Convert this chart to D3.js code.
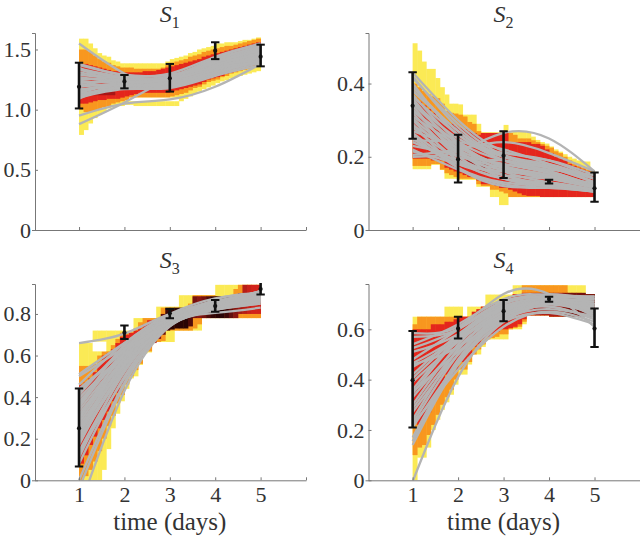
<!DOCTYPE html>
<html><head><meta charset="utf-8">
<script src="https://cdn.jsdelivr.net/npm/d3@7/dist/d3.min.js"></script>
<style>html,body{margin:0;padding:0;background:#fff}svg{display:block}</style>
</head><body><svg id="c" width="640" height="536"></svg>
<script>
const dayTicks=[1,2,3,4,5,6];
const dayLabels=["1","2","3","4","5",""];
const curveDays=[1,2,3,4,5];
const binEdges=[1,1.1,1.2,1.3,1.4,1.5,1.6,1.7,1.8,1.9,2,2.1,2.2,2.3,2.4,2.5,2.6,2.7,2.8,2.9,3,3.1,3.2,3.3,3.4,3.5,3.6,3.7,3.8,3.9,4,4.1,4.2,4.3,4.4,4.5,4.6,4.7,4.8,4.9,5];

// S1
const s1YellowHi=[1.59,1.59,1.55,1.51,1.47,1.45,1.44,1.41,1.40,1.385, 1.385,1.385,1.385,1.385,1.385,1.385,1.385,1.385,1.385,1.40, 1.42,1.43,1.44,1.45,1.47,1.48,1.50,1.51,1.52,1.53, 1.55,1.55,1.56,1.56,1.56,1.57,1.58,1.58,1.59,1.60,1.60];
const s1OrangeHi=[1.50,1.50,1.48,1.45,1.42,1.40,1.39,1.37,1.36,1.35, 1.35,1.35,1.34,1.34,1.34,1.34,1.34,1.34,1.35,1.37, 1.39,1.40,1.41,1.42,1.44,1.45,1.46,1.48,1.49,1.50, 1.51,1.52,1.53,1.53,1.54,1.55,1.56,1.57,1.58,1.59,1.59];
const s1RedHi=[1.38,1.38,1.37,1.36,1.35,1.34,1.33,1.32,1.32,1.31, 1.31,1.31,1.31,1.31,1.32,1.32,1.32,1.33,1.34,1.35, 1.36,1.37,1.38,1.39,1.40,1.41,1.42,1.44,1.45,1.46, 1.47,1.48,1.49,1.50,1.51,1.52,1.53,1.54,1.55,1.56,1.56];
const s1RedLo=[1.05,1.05,1.06,1.07,1.08,1.08,1.09,1.09,1.09,1.10, 1.11,1.12,1.13,1.14,1.14,1.14,1.14,1.14,1.14,1.14, 1.15,1.16,1.17,1.18,1.19,1.20,1.21,1.23,1.25,1.26, 1.27,1.28,1.30,1.31,1.33,1.34,1.35,1.36,1.37,1.38,1.38];
const s1OrangeLo=[1.00,.98,.98,.99,1.00,1.02,1.03,1.05,1.06,1.07, 1.08,1.09,1.10,1.10,1.10,1.10,1.10,1.10,1.10,1.10, 1.11,1.12,1.13,1.14,1.16,1.18,1.19,1.21,1.23,1.24, 1.25,1.27,1.28,1.30,1.31,1.32,1.33,1.34,1.35,1.36,1.36];
const s1YellowLo=[.79,.83,.885,.93,.955,.98,1.01,1.02,1.03,1.03, 1.04,1.04,1.03,1.03,1.03,1.03,1.03,1.03,1.03,1.03, 1.03,1.03,1.07,1.09,1.11,1.13,1.15,1.17,1.185,1.20, 1.22,1.235,1.245,1.26,1.27,1.28,1.29,1.30,1.31,1.32,1.33];
const s1Shade=[0,0,0,0,0,0,0,0,0,0, 0,0,0,0,0,0,0,0,0,0, 0,0,0,0,0,0,0,0,0,0, 0,0,0,0,0,0,0,0,0,0,0];
const s1Holes=[[2.1,3.2,1.07,1.10]];
const s1Hot=[[1.3,1.8,1.12,1.15]];
const s1Curves=[[1.55,1.30,1.20,1.33,1.50],[.88,1.06,1.26,1.40,1.52],[.95,1.05,1.085,1.19,1.38],[1.37,1.29,1.30,1.44,1.55],[1.34,1.27,1.28,1.42,1.52],[1.31,1.25,1.26,1.40,1.51],[1.29,1.26,1.27,1.38,1.49],[1.26,1.24,1.24,1.37,1.48],[1.24,1.22,1.25,1.36,1.46],[1.22,1.24,1.23,1.34,1.45],[1.19,1.21,1.22,1.33,1.44],[1.17,1.19,1.21,1.32,1.43],[1.15,1.22,1.20,1.31,1.42],[1.13,1.18,1.19,1.30,1.41],[1.11,1.20,1.21,1.29,1.39],[1.10,1.17,1.18,1.28,1.37],[1.35,1.20,1.24,1.36,1.50],[1.09,1.23,1.26,1.35,1.47],[1.38,1.28,1.27,1.43,1.54],[1.33,1.26,1.27,1.41,1.53],[1.27,1.23,1.27,1.39,1.50],[1.20,1.25,1.26,1.37,1.47],[1.16,1.22,1.25,1.35,1.44],[1.12,1.19,1.23,1.33,1.42],[1.14,1.21,1.19,1.30,1.40],[1.21,1.20,1.22,1.31,1.41],[1.25,1.27,1.29,1.35,1.39]];
const s1Mean=[1.19,1.235,1.26,1.49,1.44], s1ErrLo=[1.01,1.177,1.15,1.42,1.36], s1ErrHi=[1.39,1.288,1.38,1.56,1.54];

// S2
const s2YellowHi=[.51,.49,.46,.44,.44,.415,.39,.37,.345,.345, .343,.315,.315,.315,.29,.267,.267,.267,.267,.267, .287,.267,.268,.268,.268,.265,.255,.246,.24,.236, .228,.22,.214,.207,.20,.195,.19,.187,.187,.164,.16];
const s2OrangeHi=[.40,.39,.38,.37,.365,.36,.345,.325,.32,.318, .315,.31,.295,.29,.27,.265,.265,.265,.265,.265, .265,.265,.26,.25,.25,.25,.245,.24,.235,.23, .225,.215,.21,.20,.19,.18,.175,.17,.165,.16,.155];
const s2RedHi=[.36,.35,.34,.33,.32,.31,.30,.295,.29,.285, .28,.275,.27,.265,.26,.265,.265,.265,.265,.265, .265,.24,.24,.24,.24,.24,.235,.235,.23,.22, .21,.20,.195,.19,.18,.175,.17,.165,.16,.155,.155];
const s2RedLo=[.195,.195,.195,.195,.19,.19,.19,.17,.165,.16, .155,.15,.145,.145,.135,.125,.125,.125,.12,.115, .115,.11,.105,.10,.095,.093,.093,.093,.09,.09, .09,.09,.09,.09,.09,.09,.09,.09,.09,.09,.09];
const s2OrangeLo=[.175,.175,.175,.175,.18,.18,.165,.155,.15,.145, .14,.14,.14,.14,.125,.12,.12,.11,.11,.105, .10,.09,.09,.09,.09,.09,.09,.09,.09,.09, .09,.09,.09,.09,.09,.09,.09,.09,.09,.09,.09];
const s2YellowLo=[.166,.166,.166,.166,.178,.178,.164,.14,.14,.14, .137,.137,.137,.137,.118,.118,.118,.09,.09,.068, .068,.09,.09,.09,.09,.09,.09,.09,.09,.09, .09,.09,.09,.09,.09,.09,.09,.09,.09,.09,.09];
const s2Shade=[0,0,0,0,0,0,0,0,0,0, 0,0,0,0,0,0,0,0,0,0, 0,0,0,0,0,0,0,0,0,0, 0,0,0,0,0,0,0,0,0,0,0];
const s2Holes=[];
const s2Hot=[[2.2,2.65,.168,.198]];
const s2Curves=[[.43,.30,.215,.19,.15],[.42,.28,.20,.17,.13],[.40,.26,.21,.19,.14],[.38,.27,.19,.16,.12],[.37,.24,.17,.14,.13],[.35,.25,.20,.17,.14],[.33,.22,.18,.16,.12],[.31,.23,.16,.13,.11],[.30,.19,.14,.13,.11],[.28,.20,.19,.16,.12],[.26,.17,.13,.12,.11],[.245,.24,.22,.18,.14],[.24,.19,.15,.12,.105],[.205,.22,.24,.21,.16],[.20,.215,.265,.25,.16],[.22,.165,.125,.115,.105],[.29,.17,.12,.115,.11],[.32,.20,.15,.14,.12],[.36,.22,.14,.12,.105],[.27,.225,.175,.15,.12],[.34,.21,.165,.15,.125],[.25,.18,.16,.14,.115],[.415,.29,.205,.18,.14],[.39,.27,.20,.175,.13],[.365,.26,.19,.165,.15],[.345,.235,.175,.15,.12],[.325,.24,.19,.17,.13],[.305,.21,.17,.15,.12],[.285,.215,.15,.125,.11],[.265,.185,.16,.145,.12],[.23,.205,.18,.155,.115],[.215,.18,.14,.125,.11]];
const s2Mean=[.339,.193,.203,.132,.114], s2ErrLo=[.249,.13,.142,.127,.077], s2ErrHi=[.431,.26,.27,.137,.157];

// S3
const s3YellowHi=[.66,.66,.66,.72,.72,.72,.72,.72,.72,.72, .72,.72,.78,.78,.78,.78,.78,.835,.835,.835, .835,.835,.89,.89,.89,.89,.89,.89,.89,.89, .94,.94,.94,.94,.94,.94,.94,.94,.94,.94,.94];
const s3OrangeHi=[.55,.55,.55,.56,.60,.62,.62,.65,.68,.71, .71,.71,.73,.76,.78,.78,.78,.78,.83,.83, .83,.83,.83,.83,.85,.89,.89,.89,.89,.89, .885,.885,.885,.885,.92,.94,.94,.94,.94,.94,.94];
const s3RedHi=[.46,.47,.49,.52,.56,.60,.61,.63,.66,.69, .70,.71,.72,.73,.75,.77,.77,.78,.80,.83, .83,.83,.83,.83,.83,.885,.885,.885,.885,.885, .885,.885,.885,.885,.89,.90,.94,.94,.94,.94,.94];
const s3RedLo=[.08,.12,.17,.21,.25,.29,.33,.38,.42,.46, .50,.54,.56,.59,.62,.64,.66,.68,.70,.72, .725,.73,.73,.73,.74,.78,.78,.78,.78,.78, .78,.78,.78,.78,.78,.80,.80,.80,.80,.80,.80];
const s3OrangeLo=[0,.02,.05,.09,.14,.20,.26,.31,.37,.41, .46,.50,.53,.56,.62,.62,.665,.665,.67,.72, .72,.72,.72,.72,.72,.73,.75,.78,.78,.78, .78,.78,.78,.78,.78,.78,.78,.78,.78,.78,.78];
const s3YellowLo=[0,0,0,0,0,.05,.15,.25,.32,.38, .44,.49,.50,.555,.61,.615,.665,.665,.665,.665, .665,.72,.72,.72,.72,.72,.72,.78,.78,.78, .78,.78,.78,.78,.78,.78,.78,.78,.78,.78,.78];
const s3Shade=[0,0,0,0,0,0,0,0,0,0, 0,0,0,0,0,0,.3,.5,.7,.9, 1,1,1,1,.8,.6,.5,.6,.8,.95, 1,1,.9,.7,.5,.35,.25,.15,.1,.1,.1];
const s3Holes=[[1.3,1.6,.62,.667]];
const s3Hot=[];
const s3Curves=[[.66,.705,.80,.85,.91],[.51,.66,.78,.84,.90],[.50,.64,.77,.83,.87],[.46,.66,.79,.85,.89],[.44,.62,.77,.84,.91],[.41,.64,.78,.83,.86],[.38,.60,.76,.83,.88],[.35,.62,.79,.86,.90],[.32,.58,.75,.82,.85],[.29,.59,.77,.84,.88],[.26,.56,.76,.84,.89],[.23,.57,.78,.85,.90],[.20,.54,.75,.82,.87],[.17,.55,.77,.85,.91],[.14,.52,.76,.83,.86],[.11,.53,.78,.86,.90],[.08,.50,.75,.83,.88],[0,.47,.74,.82,.85],[-.04,.46,.75,.84,.89],[-.14,.43,.74,.83,.87],[.425,.63,.78,.84,.88],[.395,.61,.77,.85,.90],[.365,.61,.77,.83,.87],[.335,.60,.78,.85,.89],[.305,.57,.76,.83,.86],[.275,.58,.77,.85,.91],[.245,.55,.75,.84,.87],[.215,.56,.77,.83,.89],[.185,.53,.76,.85,.88],[.30,.61,.78,.86,.905],[.22,.59,.76,.87,.90],[.36,.65,.80,.875,.90],[.13,.49,.745,.805,.83]];
const s3Mean=[.25,.71,.803,.838,.92], s3ErrLo=[.066,.68,.779,.811,.894], s3ErrHi=[.442,.744,.824,.867,.96];

// S4
const s4YellowHi=[.65,.65,.65,.65,.65,.65,.65,.69,.69,.69, .69,.65,.69,.69,.69,.69,.738,.738,.738,.738, .738,.738,.775,.775,.775,.775,.775,.775,.775,.775, .775,.775,.775,.775,.775,.775,.775,.775,.74,.74,.74];
const s4OrangeHi=[.62,.65,.65,.65,.65,.65,.65,.65,.65,.65, .65,.65,.65,.65,.66,.69,.69,.69,.70,.71, .72,.73,.74,.74,.775,.775,.775,.775,.775,.775, .775,.775,.775,.775,.745,.745,.745,.74,.74,.74,.74];
const s4RedHi=[.60,.60,.60,.60,.62,.62,.62,.63,.63,.64, .65,.65,.65,.67,.68,.69,.69,.70,.70,.71, .72,.73,.74,.74,.745,.745,.745,.745,.745,.745, .745,.745,.745,.745,.745,.745,.745,.745,.74,.74,.74];
const s4RedLo=[.25,.22,.24,.27,.31,.35,.38,.42,.42,.44, .47,.47,.49,.53,.54,.56,.57,.58,.59,.60, .60,.605,.61,.62,.64,.655,.655,.655,.655,.655, .65,.65,.65,.65,.65,.65,.65,.65,.65,.65,.65];
const s4OrangeLo=[.10,.13,.14,.18,.22,.26,.30,.33,.36,.40, .44,.44,.47,.50,.52,.54,.56,.565,.57,.58, .58,.60,.605,.61,.63,.655,.655,.655,.655,.655, .65,.65,.65,.65,.65,.65,.65,.65,.65,.65,.65];
const s4YellowLo=[0,.09,.09,.13,.20,.24,.28,.31,.34,.38, .42,.42,.46,.50,.50,.53,.56,.56,.56,.56, .56,.60,.60,.60,.62,.655,.655,.655,.655,.655, .65,.65,.65,.65,.65,.65,.65,.65,.65,.65,.65];
const s4Shade=[0,0,0,0,0,0,0,0,0,0, 0,0,0,0,0,0,0,0,0,0, 0,0,0,0,0,0,.2,.3,.3,.3, .3,.3,.3,.5,.6,.6,.6,.6,.6,.6,.6];
const s4Holes=[];
const s4Hot=[];
const s4Curves=[[-.005,.41,.63,.70,.68],[.14,.46,.63,.70,.66],[.17,.48,.66,.72,.70],[.21,.47,.65,.69,.64],[.24,.52,.67,.72,.73],[.27,.50,.64,.68,.65],[.30,.54,.68,.72,.71],[.33,.53,.66,.70,.69],[.36,.57,.70,.73,.72],[.39,.55,.67,.72,.70],[.42,.58,.69,.71,.66],[.45,.56,.68,.73,.73],[.48,.60,.71,.72,.68],[.51,.58,.70,.74,.72],[.54,.62,.72,.73,.65],[.57,.60,.71,.73,.73],[.585,.61,.74,.74,.61],[.155,.47,.64,.71,.69],[.225,.50,.66,.71,.72],[.285,.52,.67,.71,.70],[.345,.56,.69,.72,.71],[.405,.57,.68,.70,.67],[.465,.57,.69,.72,.69],[.525,.60,.71,.72,.67],[.22,.44,.61,.67,.63],[.35,.51,.63,.665,.62],[.46,.53,.65,.69,.64]];
const s4Mean=[.398,.603,.672,.72,.603], s4ErrLo=[.21,.563,.632,.709,.53], s4ErrHi=[.593,.65,.716,.729,.683];

const panels=[
 {sub:"1",x:[35,306],y:[230,33],titleY:22,max:1.637,ticks:[0,.5,1,1.5],labels:false,yh:s1YellowHi,oh:s1OrangeHi,rh:s1RedHi,rl:s1RedLo,ol:s1OrangeLo,yl:s1YellowLo,shade:s1Shade,holes:s1Holes,hot:s1Hot,curves:s1Curves,mean:s1Mean,lo:s1ErrLo,hi:s1ErrHi},
 {sub:"2",x:[368.5,640],y:[230,33],titleY:22,max:.538,ticks:[0,.2,.4],labels:false,yh:s2YellowHi,oh:s2OrangeHi,rh:s2RedHi,rl:s2RedLo,ol:s2OrangeLo,yl:s2YellowLo,shade:s2Shade,holes:s2Holes,hot:s2Hot,curves:s2Curves,mean:s2Mean,lo:s2ErrLo,hi:s2ErrHi},
 {sub:"3",x:[35,306],y:[480.3,284],titleY:268,max:.944,ticks:[0,.2,.4,.6,.8],labels:true,yh:s3YellowHi,oh:s3OrangeHi,rh:s3RedHi,rl:s3RedLo,ol:s3OrangeLo,yl:s3YellowLo,shade:s3Shade,holes:s3Holes,hot:s3Hot,curves:s3Curves,mean:s3Mean,lo:s3ErrLo,hi:s3ErrHi},
 {sub:"4",x:[368.5,640],y:[480.3,284],titleY:268,max:.78,ticks:[0,.2,.4,.6],labels:true,yh:s4YellowHi,oh:s4OrangeHi,rh:s4RedHi,rl:s4RedLo,ol:s4OrangeLo,yl:s4YellowLo,shade:s4Shade,holes:s4Holes,hot:s4Hot,curves:s4Curves,mean:s4Mean,lo:s4ErrLo,hi:s4ErrHi}
];

const FONT='"Liberation Serif",serif', TXT='#333', AX='#777';
const svg=d3.select('#c');
const heatRed=d3.interpolateRgb('#e4261d','#2b0505');
const tickFmt=d=>d===0?"0":d.toFixed(1);

panels.forEach((p,pi)=>{
 const x=d3.scaleLinear().domain([.03,6]).range(p.x);
 const y=d3.scaleLinear().domain([0,p.max]).range(p.y);
 const g=svg.append('g');
 const id='clip'+pi;
 svg.append('clipPath').attr('id',id).append('rect').attr('x',p.x[0]).attr('y',p.y[1]).attr('width',p.x[1]-p.x[0]).attr('height',p.y[0]-p.y[1]);
 const plot=g.append('g').attr('clip-path',`url(#${id})`).append('g').style('filter','blur(0.4px)');
 const cols=d3.pairs(binEdges).map((b,i)=>({t0:b[0],t1:b[1],i}));
 const band=(lo,hi,fill)=>plot.append('g').selectAll('rect').data(cols).join('rect')
   .attr('x',d=>x(d.t0)).attr('width',d=>x(d.t1)-x(d.t0)+.4)
   .attr('y',d=>y(hi[d.i])).attr('height',d=>Math.max(0,y(lo[d.i])-y(hi[d.i])))
   .attr('fill',fill);
 band(p.yl,p.yh,'#fbea55');
 band(p.ol,p.oh,'#f8971f');
 band(p.rl,p.rh,d=>heatRed(p.shade[d.i]));
 plot.append('g').selectAll('rect').data(p.holes).join('rect')
   .attr('x',d=>x(d[0])).attr('width',d=>x(d[1])-x(d[0])).attr('y',d=>y(d[3])).attr('height',d=>y(d[2])-y(d[3])).attr('fill','#fff');
 plot.append('g').selectAll('rect').data(p.hot).join('rect')
   .attr('x',d=>x(d[0])).attr('width',d=>x(d[1])-x(d[0])).attr('y',d=>y(d[3])).attr('height',d=>y(d[2])-y(d[3])).attr('fill','#a81616');
 const line=d3.line().x((d,i)=>x(curveDays[i])).y(d=>y(d)).curve(d3.curveNatural);
 plot.append('g').selectAll('path').data(p.curves).join('path').attr('d',line)
   .attr('fill','none').attr('stroke','#b4b4b4').attr('stroke-width',2.3);

 // axes
 const xa=d3.axisBottom(x).tickValues(dayTicks).tickSize(-3).tickSizeOuter(0)
   .tickFormat((d,i)=>p.labels?dayLabels[i]:"");
 const gx=g.append('g').attr('transform',`translate(0,${p.y[0]})`).call(xa);
 const ya=d3.axisLeft(y).tickValues(p.ticks).tickSize(-3).tickSizeOuter(3).tickPadding(4).tickFormat(tickFmt);
 const gy=g.append('g').attr('transform',`translate(${p.x[0]},0)`).call(ya);
 [gx,gy].forEach(a=>{
  a.selectAll('path,line').attr('stroke',AX).attr('stroke-width',1);
  a.selectAll('text').attr('font-family',FONT).attr('font-size',22).attr('fill',TXT);
 });
 gx.selectAll('text').attr('y',6).attr('dy','0.71em');

 // error bars
 svg.append('clipPath').attr('id',id+'b').append('rect').attr('x',p.x[0]).attr('y',p.y[1]-1).attr('width',p.x[1]-p.x[0]).attr('height',p.y[0]-p.y[1]+2);
 const eb=g.append('g').attr('clip-path',`url(#${id}b)`);
 const seg=eb.selectAll('g').data(curveDays).join('g');
 seg.append('line').attr('x1',d=>x(d)).attr('x2',d=>x(d)).attr('y1',(d,i)=>y(p.lo[i])).attr('y2',(d,i)=>y(p.hi[i])).attr('stroke','#111').attr('stroke-width',2.6);
 [p.lo,p.hi].forEach(v=>seg.append('line').attr('x1',d=>x(d)-4.2).attr('x2',d=>x(d)+4.2).attr('y1',(d,i)=>y(v[i])).attr('y2',(d,i)=>y(v[i])).attr('stroke','#111').attr('stroke-width',2));
 seg.append('circle').attr('cx',d=>x(d)).attr('cy',(d,i)=>y(p.mean[i])).attr('r',2.1).attr('fill','#111');

 // title
 const cx=x(3);
 const t=g.append('text').attr('x',cx).attr('y',p.titleY).attr('text-anchor','middle').attr('font-family',FONT).attr('fill',TXT).attr('font-size',24);
 t.append('tspan').attr('font-style','italic').text('S');
 t.append('tspan').attr('font-size',16).attr('dy',6).text(p.sub);

 if(p.labels){
  g.append('text').attr('x',cx).attr('y',530).attr('text-anchor','middle').attr('font-family',FONT).attr('font-size',25).attr('fill',TXT).text('time (days)');
 }
});
</script></body></html>
